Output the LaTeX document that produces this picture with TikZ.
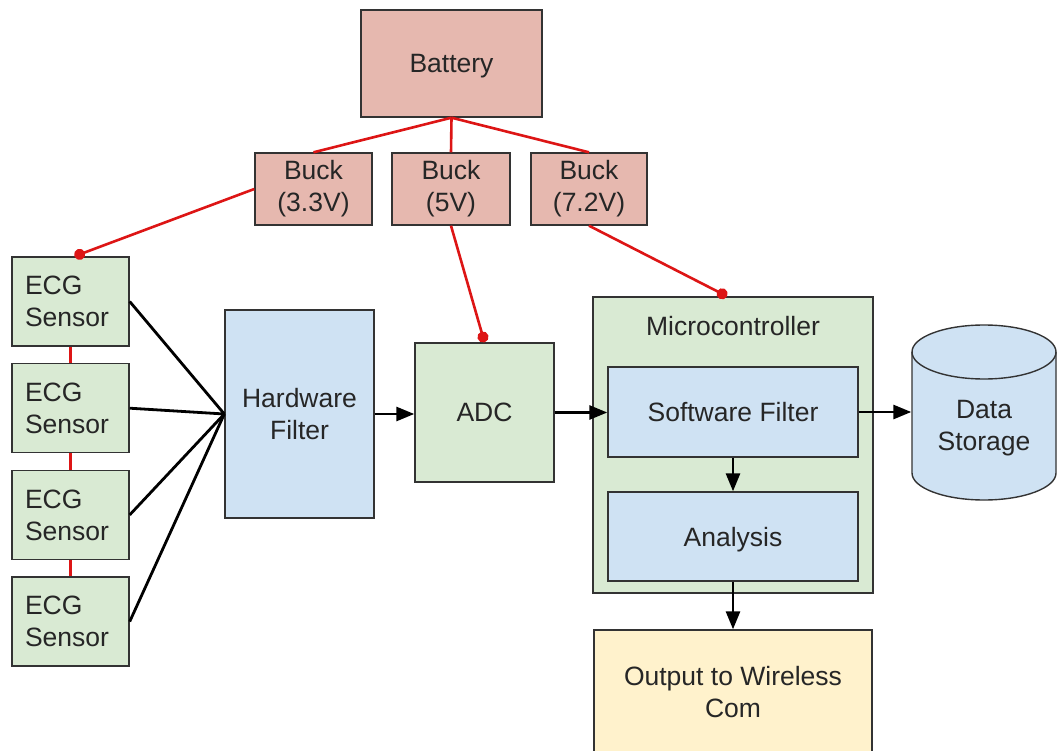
\documentclass[tikz,border=0pt]{standalone}
\usepackage{fontspec}
\setmainfont{Liberation Sans}
\usetikzlibrary{arrows.meta}
\definecolor{powerfill}{HTML}{E6B8AF}
\definecolor{greenfill}{HTML}{D9EAD3}
\definecolor{bluefill}{HTML}{CFE2F3}
\definecolor{yellowfill}{HTML}{FFF2CC}
\definecolor{edge}{HTML}{333333}
\definecolor{wire}{HTML}{DD1515}
\tikzstyle{block} = [draw=edge, line width=1.4pt, inner sep=0pt, align=center, text=black!85, font=\fontsize{26.5}{32}\selectfont]
\tikzstyle{oneline} = [text depth=0pt]
\tikzstyle{powerbox} = [block, fill=powerfill]
\tikzstyle{greenbox} = [block, fill=greenfill]
\tikzstyle{bluebox} = [block, fill=bluefill]
\tikzstyle{flow} = [line width=2.8pt, -{Triangle[length=18pt,width=14pt]}]
\tikzstyle{fan} = [line width=2.8pt]
\tikzstyle{power} = [draw=wire, line width=2.6pt]
\tikzstyle{tap} = [power, -{Circle[length=11pt]}]

\begin{document}
\begin{tikzpicture}[x=1pt,y=-1pt]
    \useasboundingbox (0,0) rectangle (1057,751);
    \fill[white] (0,0) rectangle (1057,751);
    % power supply
    \node[powerbox, oneline, minimum width=181pt, minimum height=107pt] (battery) at (451.5,63.5) {Battery};
    \node[powerbox, minimum width=117pt, minimum height=72pt] (buckA) at (313.5,189) {Buck\\(3.3V)};
    \node[powerbox, minimum width=118pt, minimum height=72pt] (buckB) at (451,189) {Buck\\(5V)};
    \node[powerbox, minimum width=116pt, minimum height=72pt] (buckC) at (589,189) {Buck\\(7.2V)};
    \draw[power] (battery.south) -- (buckA.north);
    \draw[power] (battery.south) -- (buckB.north);
    \draw[power] (battery.south) -- (buckC.north);
    % sensors
    \foreach \i in {1,...,4}
        \node[greenbox, minimum width=117pt, minimum height=89pt, text width=91pt, align=left]
            (ecg\i) at (70.5,{301.5+106.7*(\i-1)}) {ECG\\Sensor};
    \foreach \i in {1,2,3} {
        \pgfmathtruncatemacro\j{\i+1}
        \draw[power] (ecg\i.south) -- (ecg\j.north);
    }
    % signal chain
    \node[bluebox, minimum width=149pt, minimum height=208pt] (hf) at (299.5,414) {Hardware\\Filter};
    \node[greenbox, oneline, minimum width=139pt, minimum height=139pt] (adc) at (484.5,412.5) {ADC};
    \node[greenbox, minimum width=280pt, minimum height=296pt] (mc) at (733,445) {};
    \node[block, oneline, draw=none] (mclabel) at (733,326) {Microcontroller};
    \node[bluebox, oneline, minimum width=250pt, minimum height=90pt] (sf) at (733,412) {Software Filter};
    \node[bluebox, oneline, minimum width=250pt, minimum height=89pt] (an) at (733,536.5) {Analysis};
    \node[block, fill=yellowfill, minimum width=278pt, minimum height=124pt] (out) at (733,692) {Output to Wireless\\Com};
    % storage
    \filldraw[fill=bluefill, draw=edge, line width=1.4pt] (912,352) -- (912,473)
        arc[start angle=180, end angle=0, x radius=72, y radius=27] -- (1056,352)
        arc[start angle=0, end angle=-180, x radius=72, y radius=27] -- cycle;
    \draw[draw=edge, line width=1.4pt] (912,352) arc[start angle=180, end angle=0, x radius=72, y radius=27];
    \node[block, draw=none, minimum width=144pt, minimum height=175pt] (store) at (984,428) {Data\\Storage};
    % connections
    \foreach \i in {1,...,4}
        \draw[fan] (ecg\i.east) -- (hf.west);
    \draw[flow] (hf.east) -- (adc.west |- hf.east);
    \draw[flow] (adc.east) -- (sf.west |- adc.east);
    \draw[flow] (sf.east) -- (sf.east -| store.west);
    \draw[flow] (sf.south) -- (an.north);
    \draw[flow] (an.south) -- (out.north);
    % power taps
    \draw[tap] (buckA.west) -- ([xshift=4pt]ecg1.north);
    \draw[tap] (buckB.south) -- (adc.north);
    \draw[tap] (buckC.south) -- ([xshift=-6pt]mc.north);
\end{tikzpicture}
\end{document}
